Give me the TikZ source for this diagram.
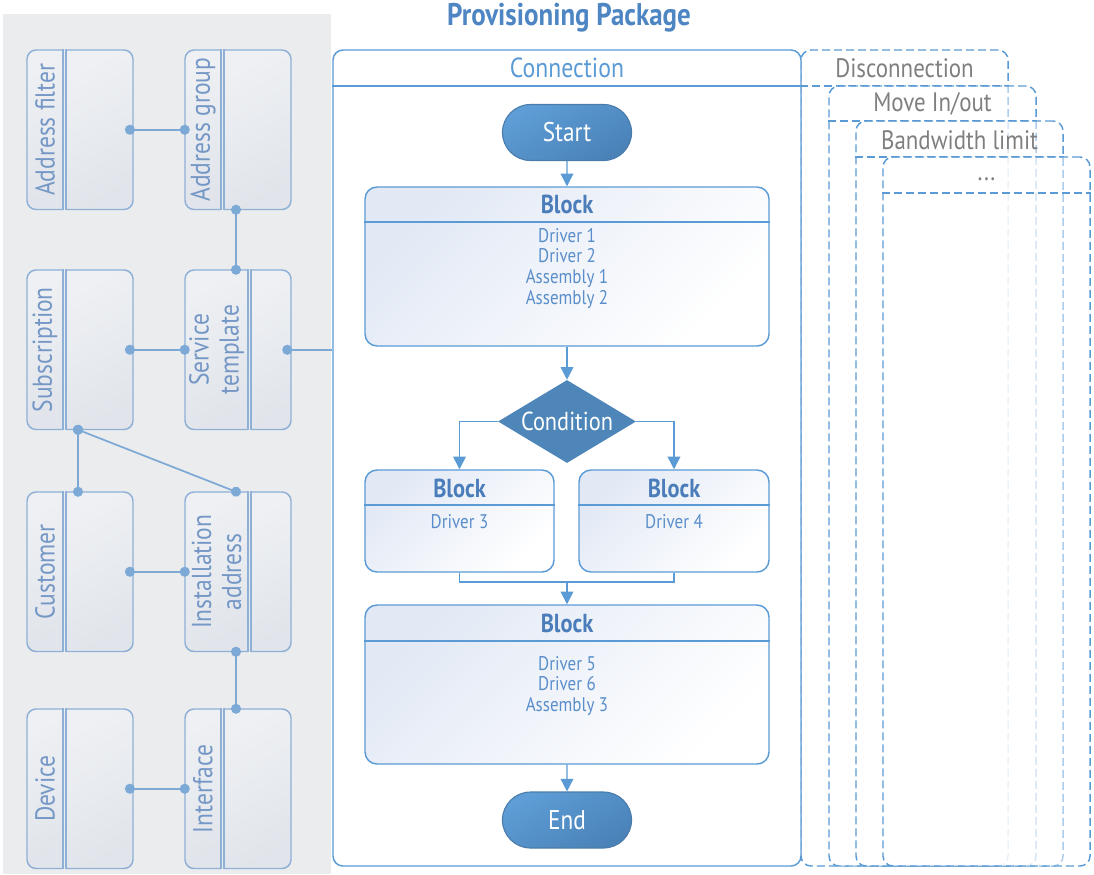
\documentclass[tikz,border=0pt]{standalone}
\usepackage{fontspec}
\setmainfont{PT Sans}[FakeStretch=0.86]
\usetikzlibrary{arrows.meta,shapes.geometric,shapes.misc}
\definecolor{panel}{HTML}{EBECEE}
\definecolor{entline}{HTML}{8EB0D7}
\definecolor{entA}{HTML}{EEF0F3}
\definecolor{entB}{HTML}{E1E5EB}
\definecolor{connc}{HTML}{7DA9D6}
\definecolor{entlbl}{HTML}{7497C6}
\definecolor{mainline}{HTML}{5B9BD5}
\definecolor{titlec}{HTML}{4D86C3}
\definecolor{graytxt}{HTML}{7F7F7F}
\definecolor{blockA}{HTML}{E2E9F5}
\definecolor{blocktxt}{HTML}{4A7DBA}
\definecolor{drvtxt}{HTML}{5A8ECA}
\definecolor{pillA}{HTML}{5E9DD6}
\definecolor{pillB}{HTML}{4A82B8}
\definecolor{pillline}{HTML}{4A7CAB}
\definecolor{diamc}{HTML}{4E86B9}
\tikzset{
  anchorbox/.style={inner sep=0pt, minimum width=79.5pt, minimum height=119.6pt},
  entfill/.style={top color=entA, bottom color=entB, shading angle=30},
  entedge/.style={draw=entline, line width=1.1pt},
  entlabel/.style={text=entlbl, font=\fontsize{20.5}{22.5}\selectfont, align=center, inner sep=0pt},
  dotline/.style={draw=connc, line width=1.3pt, {Circle[length=7.5pt]}-{Circle[length=7.5pt]}, shorten <=-3.75pt, shorten >=-3.75pt},
  mainbox/.style={draw=mainline, line width=1.1pt, rounded corners=7.5pt, fill=white, inner sep=0pt},
  dashbox/.style={draw=mainline, line width=1.1pt, rounded corners=7.5pt, dash pattern=on 6pt off 3pt, fill=white, fill opacity=0.5, inner sep=0pt},
  hdrline/.style={draw=mainline, line width=1.1pt},
  hdrdash/.style={draw=mainline, line width=1.1pt, dash pattern=on 6pt off 3pt},
  graylbl/.style={text=graytxt, font=\fontsize{20}{22}\selectfont},
  blockbox/.style={draw=mainline, line width=1.1pt, rounded corners=9pt, top color=blockA, bottom color=white, shading angle=45, inner sep=0pt},
  blocktitle/.style={text=blocktxt, font=\bfseries\fontsize{19.5}{22}\selectfont},
  drvlbl/.style={text=drvtxt, font=\fontsize{14.8}{15.5}\selectfont, align=center},
  pill/.style={rounded rectangle, draw=pillline, line width=0.8pt, top color=pillA, bottom color=pillB, shading angle=30, minimum width=103.5pt, minimum height=42pt, text=white, font=\fontsize{20.3}{22}\selectfont},
  decision/.style={diamond, aspect=1.66, fill=diamc, minimum width=103.5pt, minimum height=62.25pt, inner sep=0pt, text=white, font=\fontsize{19.5}{22}\selectfont},
  flow/.style={draw=mainline, line width=1.1pt, -{Triangle[length=9.5pt, width=9.5pt]}},
  flowline/.style={draw=mainline, line width=1.1pt},
}
\newcommand\entity[5]{%
  \pgfmathsetmacro\xa{#2}%
  \pgfmathsetmacro\ya{#3}%
  \pgfmathsetmacro\xb{#2+106}%
  \pgfmathsetmacro\yb{#3+159.5}%
  \pgfmathsetmacro\xs{#2+#4}%
  \pgfmathsetmacro\xt{#2+#4+3}%
  \node[anchorbox] (#1) at ({(\xa+\xb)/2},{(\ya+\yb)/2}) {};
  \shade[entfill, rounded corners=6.75pt] (\xs,\ya) -- (\xa,\ya) -- (\xa,\yb) -- (\xs,\yb);
  \draw[entedge, rounded corners=6.75pt] (\xs,\ya) -- (\xa,\ya) -- (\xa,\yb) -- (\xs,\yb);
  \draw[entedge, line cap=rect] (\xs,\ya) -- (\xs,\yb);
  \shade[entfill, rounded corners=6.75pt] (\xt,\ya) -- (\xb,\ya) -- (\xb,\yb) -- (\xt,\yb);
  \draw[entedge, rounded corners=6.75pt] (\xt,\ya) -- (\xb,\ya) -- (\xb,\yb) -- (\xt,\yb);
  \draw[entedge, line cap=rect] (\xt,\ya) -- (\xt,\yb);
  \node[entlabel, rotate=90] (#1-lbl) at ({(\xa+\xs)/2},{(\ya+\yb)/2}) {#5};
}
\begin{document}
\begin{tikzpicture}[x=0.75pt, y=-0.75pt]
\useasboundingbox (0,0) rectangle (1094,874);
\fill[white] (0,0) rectangle (1094,874);
% left panel
\fill[panel] (3,14) rectangle (331,874);
\entity{af}{27}{50}{36}{Address filter}
\entity{ag}{185}{50}{36}{Address group}
\entity{sub}{27}{270}{36}{Subscription}
\entity{st}{185}{270}{63}{Service\\template}
\entity{cus}{27}{492}{36}{Customer}
\entity{ia}{185}{492}{63}{Installation\\address}
\entity{dev}{27}{709}{36}{Device}
\entity{ifc}{185}{709}{36}{Interface}

% dashed scenario boxes
\node[dashbox, minimum width=155.25pt, minimum height=612pt] (dis) at (904.5,458) {};
\draw[hdrdash] (dis.west |- 0,86) -- (dis.east |- 0,86);
\node[dashbox, minimum width=155.25pt, minimum height=585pt] (mov) at (932.5,476) {};
\draw[hdrdash] (mov.west |- 0,121) -- (mov.east |- 0,121);
\node[dashbox, minimum width=155.25pt, minimum height=558.75pt] (bw) at (959.5,493.5) {};
\draw[hdrdash] (bw.west |- 0,157) -- (bw.east |- 0,157);
\node[dashbox, minimum width=155.25pt, minimum height=531.75pt] (etc) at (986.5,511.5) {};
\draw[hdrdash] (etc.west |- 0,193) -- (etc.east |- 0,193);

% main connection box
\node[mainbox, minimum width=351pt, minimum height=612pt] (cnx) at (567,458) {};
\draw[hdrline] (cnx.west |- 0,86) -- (cnx.east |- 0,86);

% labels
\node[text=titlec, font=\bfseries\fontsize{23.5}{26}\selectfont] (title) at (569,18) {Provisioning Package};
\node[text=mainline, font=\fontsize{20.7}{24}\selectfont] (cnxl) at (567,68) {Connection};
\node[graylbl] (disl) at (904.5,68) {Disconnection};
\node[graylbl] (movl) at (932.5,104) {Move In/out};
\node[graylbl] (bwl) at (959.5,140) {Bandwidth limit};
\node[graylbl] (etcl) at (986.5,179) {...};

% entity connectors
\draw[dotline] ([xshift=-2.5pt]af.east) -- (ag.west);
\draw[dotline] (ag.south -| 236,0) -- (st.north -| 236,0);
\draw[dotline] ([xshift=-2.5pt]sub.east) -- (st.west);
\draw[dotline] (sub.south -| 78,0) -- (cus.north -| 78,0);
\draw[dotline] (sub.south -| 78,0) -- (ia.north -| 236,0);
\draw[dotline] ([xshift=-2.5pt]cus.east) -- (ia.west);
\draw[dotline] (ia.south -| 236,0) -- (ifc.north -| 236,0);
\draw[dotline] ([xshift=-2.5pt]dev.east) -- (ifc.west);
\draw[draw=connc, line width=1.3pt, {Circle[length=7.5pt]}-, shorten <=-3.75pt] ([xshift=-3pt]st.east) -- (cnx.west |- st.east);

% flow
\node[pill] (start) at (567,132.5) {Start};
\node[blockbox, minimum width=303pt, minimum height=119.25pt] (b1) at (567,266.5) {};
\draw[flowline] (b1.west |- 0,222) -- (b1.east |- 0,222);
\node[blocktitle] (b1t) at (567,204.5) {Block};
\node[drvlbl] (b1d) at (567,268) {Driver 1\\Driver 2\\Assembly 1\\Assembly 2};

\node[decision] (cond) at (567,421.5) {Condition};

\node[blockbox, minimum width=141.75pt, minimum height=76.5pt] (b2) at (459.5,521) {};
\draw[flowline] (b2.west |- 0,505) -- (b2.east |- 0,505);
\node[blocktitle] (b2t) at (459.5,488.5) {Block};
\node[drvlbl] (b2d) at (459.5,522) {Driver 3};

\node[blockbox, minimum width=142.5pt, minimum height=76.5pt] (b3) at (674,521) {};
\draw[flowline] (b3.west |- 0,505) -- (b3.east |- 0,505);
\node[blocktitle] (b3t) at (674,488.5) {Block};
\node[drvlbl] (b3d) at (674,522) {Driver 4};

\node[blockbox, minimum width=303pt, minimum height=119.25pt] (b4) at (567,684.5) {};
\draw[flowline] (b4.west |- 0,641) -- (b4.east |- 0,641);
\node[blocktitle] (b4t) at (567,623) {Block};
\node[drvlbl] (b4d) at (567,686) {Driver 5\\Driver 6\\Assembly 3};

\node[pill] (end) at (567,820) {End};

\coordinate (merge) at (567,582);
\draw[flow] (start) -- (b1);
\draw[flow] (b1) -- (cond);
\draw[flow] (cond.west) -| (b2.north);
\draw[flow] (cond.east) -| (b3.north);
\draw[flowline] (b2.south) |- (merge) -| (b3.south);
\draw[flow] (merge) -- (b4.north);
\draw[flow] (b4) -- (end);
\end{tikzpicture}
\end{document}
